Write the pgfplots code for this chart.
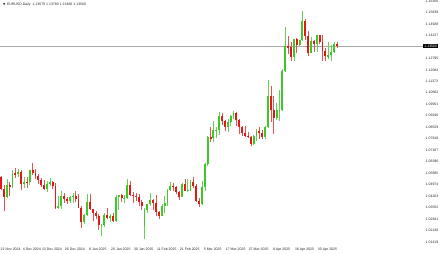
\documentclass[border=0pt]{standalone}
\usepackage{fontspec}
\setmainfont{Liberation Sans}
\newfontfamily\symfont{DejaVu Sans}
\usepackage{pgfplots}
\pgfplotsset{compat=1.18}
\usepackage{pgfplotstable}
\definecolor{bull}{RGB}{60,200,40}
\definecolor{bear}{RGB}{228,22,22}
\definecolor{pline}{RGB}{170,170,170}

\pgfplotstableread{
i o h l c
0 1.0543 1.0550 1.0462 1.0472
1 1.0472 1.0497 1.0332 1.0418
2 1.0418 1.0532 1.0414 1.0493
3 1.0493 1.0514 1.0424 1.0487
4 1.0487 1.0585 1.0473 1.0566
5 1.0566 1.0597 1.0538 1.0564
6 1.0564 1.0596 1.0541 1.0577
7 1.0577 1.0587 1.0461 1.0498
8 1.0498 1.0544 1.0478 1.0512
9 1.0512 1.0545 1.0475 1.0511
10 1.0511 1.0590 1.0495 1.0586
11 1.0586 1.0630 1.0555 1.0567
12 1.0567 1.0593 1.0532 1.0553
13 1.0553 1.0560 1.0502 1.0527
14 1.0527 1.0540 1.0483 1.0495
15 1.0495 1.0523 1.0465 1.0469
16 1.0469 1.0522 1.0452 1.0502
17 1.0502 1.0535 1.0490 1.0512
18 1.0512 1.0522 1.0470 1.0489
19 1.0489 1.0508 1.0343 1.0352
20 1.0352 1.0425 1.0343 1.0366
21 1.0366 1.0458 1.0344 1.0428
22 1.0428 1.0446 1.0384 1.0407
23 1.0407 1.0417 1.0379 1.0395
24 1.0395 1.0428 1.0384 1.0420
25 1.0420 1.0446 1.0380 1.0428
26 1.0428 1.0458 1.0390 1.0410
27 1.0410 1.0436 1.0350 1.0354
28 1.0354 1.0366 1.0226 1.0265
29 1.0265 1.0313 1.0250 1.0308
30 1.0308 1.0436 1.0304 1.0388
31 1.0388 1.0437 1.0342 1.0345
32 1.0345 1.0348 1.0272 1.0319
33 1.0319 1.0331 1.0281 1.0300
34 1.0300 1.0313 1.0214 1.0244
35 1.0244 1.0250 1.0178 1.0245
36 1.0245 1.0322 1.0235 1.0308
37 1.0308 1.0353 1.0281 1.0290
38 1.0290 1.0313 1.0264 1.0301
39 1.0301 1.0318 1.0266 1.0272
40 1.0272 1.0432 1.0266 1.0421
41 1.0421 1.0435 1.0340 1.0431
42 1.0431 1.0440 1.0388 1.0411
43 1.0411 1.0433 1.0380 1.0416
44 1.0416 1.0533 1.0410 1.0496
45 1.0496 1.0520 1.0425 1.0431
46 1.0431 1.0452 1.0380 1.0429
47 1.0429 1.0446 1.0397 1.0420
48 1.0420 1.0441 1.0364 1.0390
49 1.0390 1.0401 1.0340 1.0362
50 1.0240 1.0349 1.0160 1.0342
51 1.0342 1.0378 1.0320 1.0375
52 1.0375 1.0442 1.0364 1.0403
53 1.0403 1.0409 1.0340 1.0381
54 1.0381 1.0432 1.0305 1.0328
55 1.0328 1.0334 1.0285 1.0305
56 1.0305 1.0375 1.0300 1.0362
57 1.0362 1.0426 1.0318 1.0385
58 1.0385 1.0467 1.0365 1.0465
59 1.0465 1.0513 1.0458 1.0491
60 1.0491 1.0505 1.0459 1.0483
61 1.0483 1.0488 1.0437 1.0449
62 1.0449 1.0459 1.0404 1.0422
63 1.0422 1.0505 1.0420 1.0500
64 1.0500 1.0529 1.0455 1.0459
65 1.0459 1.0529 1.0449 1.0466
66 1.0466 1.0528 1.0456 1.0512
67 1.0512 1.0546 1.0474 1.0486
68 1.0486 1.0500 1.0390 1.0397
69 1.0397 1.0416 1.0359 1.0375
70 1.0375 1.0522 1.0370 1.0483
71 1.0483 1.0631 1.0460 1.0624
72 1.0624 1.0797 1.0613 1.0790
73 1.0790 1.0854 1.0758 1.0783
74 1.0783 1.0889 1.0760 1.0833
75 1.0833 1.0854 1.0788 1.0835
76 1.0835 1.0947 1.0805 1.0919
77 1.0919 1.0940 1.0868 1.0889
78 1.0889 1.0900 1.0827 1.0852
79 1.0852 1.0906 1.0822 1.0882
80 1.0882 1.0930 1.0860 1.0922
81 1.0922 1.0955 1.0902 1.0943
82 1.0943 1.0944 1.0862 1.0898
83 1.0898 1.0905 1.0812 1.0851
84 1.0851 1.0862 1.0797 1.0816
85 1.0816 1.0857 1.0789 1.0801
86 1.0801 1.0824 1.0783 1.0791
87 1.0791 1.0798 1.0733 1.0751
88 1.0751 1.0803 1.0745 1.0800
89 1.0800 1.0844 1.0765 1.0829
90 1.0829 1.0855 1.0778 1.0816
91 1.0816 1.0838 1.0778 1.0792
92 1.0792 1.0863 1.0778 1.0852
93 1.0852 1.1145 1.0849 1.1048
94 1.1048 1.1107 1.0882 1.0958
95 1.0958 1.1048 1.0811 1.0908
96 1.0908 1.1000 1.0898 1.0957
97 1.0957 1.1084 1.0888 1.0962
98 1.0962 1.1214 1.0950 1.1200
99 1.1200 1.1474 1.1194 1.1357
100 1.1357 1.1420 1.1305 1.1347
101 1.1347 1.1380 1.1262 1.1287
102 1.1287 1.1400 1.1264 1.1397
103 1.1397 1.1405 1.1314 1.1363
104 1.1363 1.1394 1.1355 1.1392
105 1.1392 1.1573 1.1384 1.1514
106 1.1514 1.1522 1.1392 1.1420
107 1.1420 1.1446 1.1291 1.1313
108 1.1313 1.1414 1.1311 1.1389
109 1.1389 1.1391 1.1316 1.1366
110 1.1366 1.1425 1.1321 1.1422
111 1.1422 1.1426 1.1370 1.1381
112 1.1381 1.1422 1.1266 1.1327
113 1.1327 1.1341 1.1265 1.1292
114 1.1292 1.1381 1.1273 1.1299
115 1.1299 1.1365 1.1265 1.1316
116 1.1316 1.1380 1.1310 1.1370
117 1.1370 1.1378 1.1346 1.1356
}\ohlc

\begin{document}
\begin{tikzpicture}
\useasboundingbox (0pt,-9pt) rectangle (440pt,245pt);
\begin{axis}[
  at={(0pt,0pt)}, anchor=south west,
  scale only axis, width=423pt, height=245pt,
  xmin=-0.35, xmax=147, ymin=1.01222, ymax=1.16412,
  axis line style={draw=none},
  major tick length=0pt,
  clip=false,
  xtick={9,16,24,32,40,48,56,64,72,80,88,96,104,112},
  xticklabels={4 Dec 2024,13 Dec 2024,26 Dec 2024,8 Jan 2025,20 Jan 2025,30 Jan 2025,11 Feb 2025,21 Feb 2025,5 Mar 2025,17 Mar 2025,27 Mar 2025,8 Apr 2025,18 Apr 2025,30 Apr 2025},
  x tick label style={anchor=north, inner sep=0pt, xshift=5pt, yshift=-2.5pt, font=\fontsize{3.5}{4}\selectfont, text=black!85},
  ytick={1.16350,1.15639,1.14928,1.14217,1.12795,1.12084,1.11373,1.10662,1.09951,1.09240,1.08529,1.07818,1.07107,1.06396,1.05685,1.04974,1.04263,1.03552,1.02841,1.02130,1.01419},
  yticklabels={1.16350,1.15639,1.14928,1.14217,1.12795,1.12084,1.11373,1.10662,1.09951,1.09240,1.08529,1.07818,1.07107,1.06396,1.05685,1.04974,1.04263,1.03552,1.02841,1.02130,1.01419},
  yticklabel pos=right,
  y tick label style={anchor=west, inner sep=0pt, xshift=2.5pt, font=\fontsize{3.5}{4}\selectfont, text=black!85},
]
% current price line
\addplot[pline, line width=0.5pt, forget plot] coordinates {(-0.35,1.1356) (147,1.1356)};

% wicks
\addplot[draw=none, mark=none, forget plot,
  x filter/.expression={\thisrow{c}>=\thisrow{o} ? x : nan},
  error bars/.cd, y dir=both, y explicit, error mark=none,
  error bar style={draw=bull!80!white, line width=0.45pt}]
  table[x=i, y expr={(\thisrow{h}+\thisrow{l})/2}, y error expr={(\thisrow{h}-\thisrow{l})/2}] {\ohlc};
\addplot[draw=none, mark=none, forget plot,
  x filter/.expression={\thisrow{c}<\thisrow{o} ? x : nan},
  error bars/.cd, y dir=both, y explicit, error mark=none,
  error bar style={draw=bear!75!white, line width=0.45pt}]
  table[x=i, y expr={(\thisrow{h}+\thisrow{l})/2}, y error expr={(\thisrow{h}-\thisrow{l})/2}] {\ohlc};

% bodies
\addplot[draw=none, mark=none, forget plot,
  x filter/.expression={\thisrow{c}>=\thisrow{o} ? x : nan},
  error bars/.cd, y dir=both, y explicit, error mark=none,
  error bar style={draw=bull, line width=1.9pt, line cap=butt}]
  table[x=i, y expr={(\thisrow{o}+\thisrow{c})/2}, y error expr={max(abs(\thisrow{c}-\thisrow{o})/2,0.0002)}] {\ohlc};
\addplot[draw=none, mark=none, forget plot,
  x filter/.expression={\thisrow{c}<\thisrow{o} ? x : nan},
  error bars/.cd, y dir=both, y explicit, error mark=none,
  error bar style={draw=bear, line width=1.9pt, line cap=butt}]
  table[x=i, y expr={(\thisrow{o}+\thisrow{c})/2}, y error expr={max(abs(\thisrow{c}-\thisrow{o})/2,0.0002)}] {\ohlc};

\node[anchor=west, fill=black, text=white, inner xsep=1.2pt, inner ysep=0.8pt,
  font=\fontsize{3.5}{4}\selectfont] at (axis cs:147,1.1356) {1.13560};
\node[anchor=north west, inner sep=0pt, font=\fontsize{3.5}{4}\selectfont, text=black!85]
  at ([xshift=0.5pt,yshift=-2.5pt]rel axis cs:0,0) {21 Nov 2024};
\node[anchor=west, inner sep=0pt, font=\fontsize{3.5}{4}\selectfont, text=black!85]
  at ([xshift=3pt,yshift=-5pt]rel axis cs:0,1) {{\symfont\fontsize{3}{4}\selectfont ▼}\hspace{1.5pt}EURUSD,Daily\hspace{2pt}1.13679 1.13780 1.13460 1.13560};
\end{axis}
\end{tikzpicture}
\end{document}
